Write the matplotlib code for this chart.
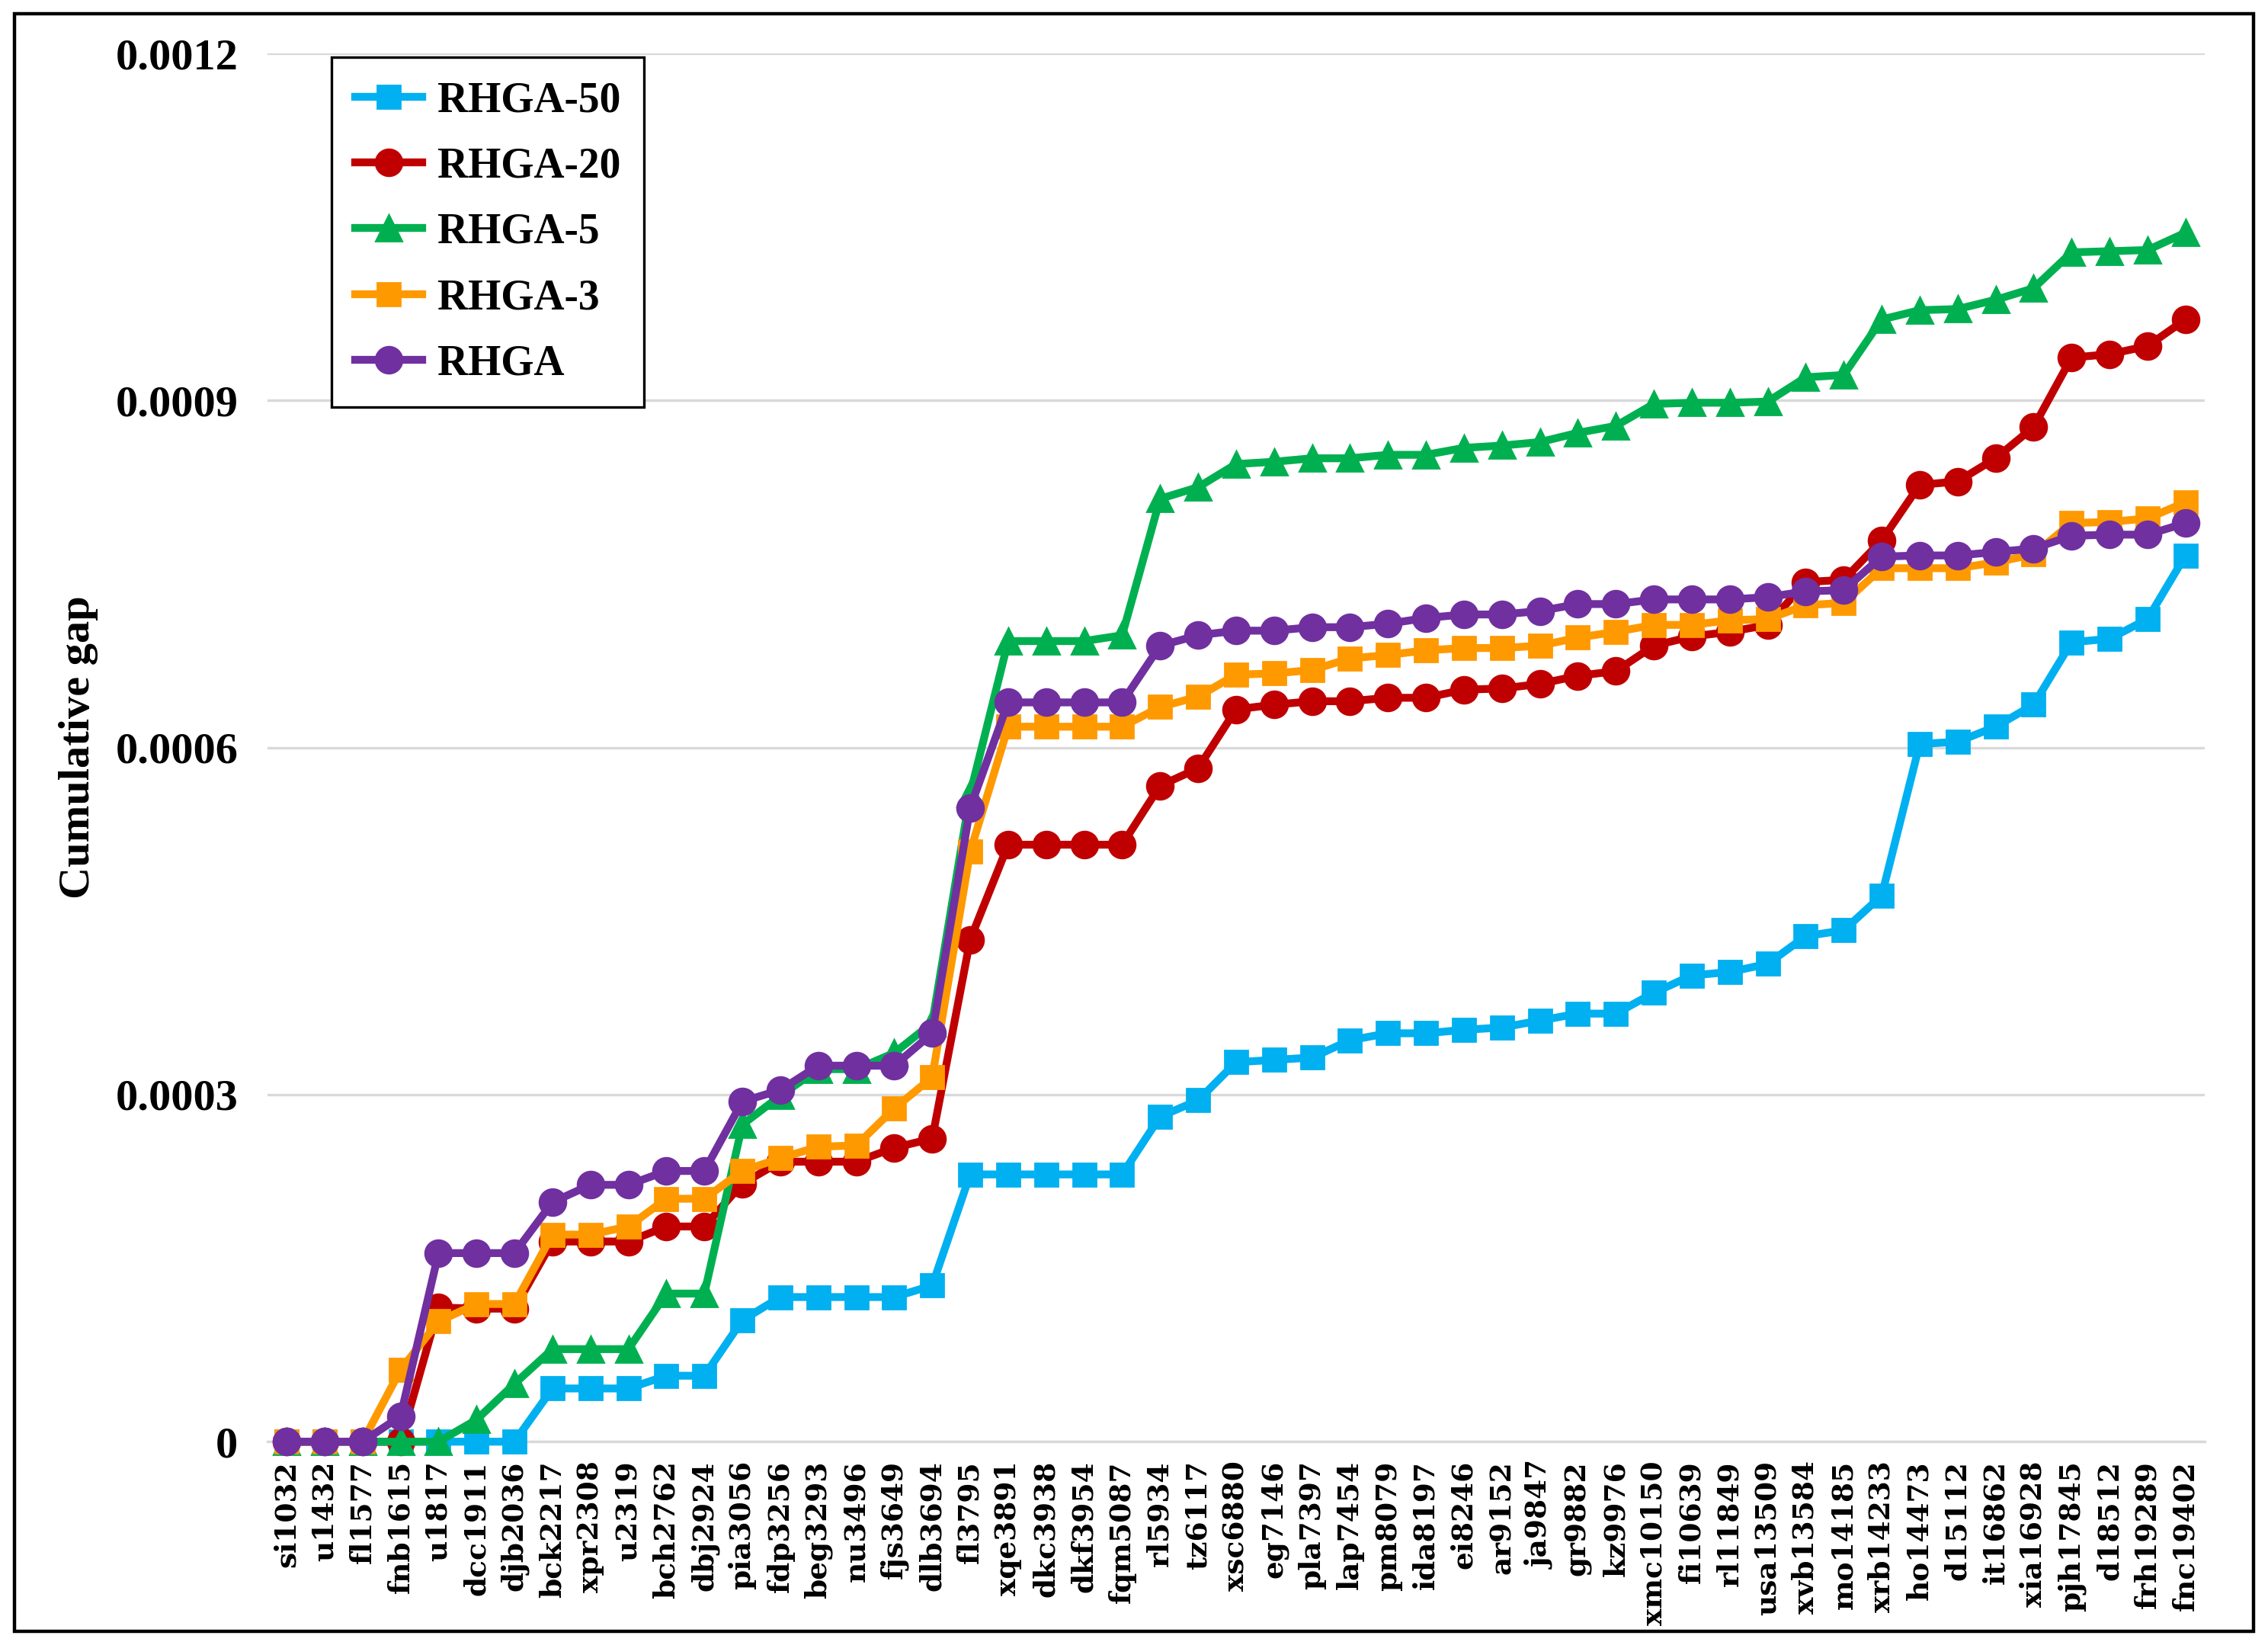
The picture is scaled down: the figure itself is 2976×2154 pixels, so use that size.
import numpy as np
import matplotlib
matplotlib.use("Agg")
import matplotlib.pyplot as plt
from matplotlib.patches import Rectangle

instances = ["si1032", "u1432", "fl1577", "fnb1615", "u1817", "dcc1911", "djb2036",
             "bck2217", "xpr2308", "u2319", "bch2762", "dbj2924", "pia3056", "fdp3256",
             "beg3293", "nu3496", "fjs3649", "dlb3694", "fl3795", "xqe3891", "dkc3938",
             "dkf3954", "fqm5087", "rl5934", "tz6117", "xsc6880", "eg7146", "pla7397",
             "lap7454", "pm8079", "ida8197", "ei8246", "ar9152", "ja9847", "gr9882",
             "kz9976", "xmc10150", "fi10639", "rl11849", "usa13509", "xvb13584",
             "mo14185", "xrb14233", "ho14473", "d15112", "it16862", "xia16928",
             "pjh17845", "d18512", "frh19289", "fnc19402"]

rhga50 = [0, 0, 0, 0, 0, 0, 0, 0.000046, 0.000046, 0.000046, 0.000057, 0.000057,
          0.000105, 0.000125, 0.000125, 0.000125, 0.000125, 0.000135, 0.000231,
          0.000231, 0.000231, 0.000231, 0.000231, 0.000281, 0.000295, 0.000328,
          0.000330, 0.000332, 0.000347, 0.000353, 0.000353, 0.000356, 0.000358,
          0.000364, 0.000370, 0.000370, 0.000388, 0.000403, 0.000406, 0.000413,
          0.000437, 0.000442, 0.000472, 0.000603, 0.000605, 0.000618, 0.000637,
          0.000691, 0.000694, 0.000711, 0.000766]

rhga20 = [0, 0, 0, 0, 0.000116, 0.000115, 0.000115, 0.000173, 0.000173, 0.000173,
          0.000186, 0.000186, 0.000223, 0.000242, 0.000242, 0.000242, 0.000254,
          0.000262, 0.000434, 0.000516, 0.000516, 0.000516, 0.000516, 0.000567,
          0.000582, 0.000633, 0.000637, 0.000640, 0.000640, 0.000643, 0.000643,
          0.000650, 0.000651, 0.000655, 0.000662, 0.000666, 0.000688, 0.000696,
          0.000700, 0.000706, 0.000743, 0.000745, 0.000779, 0.000827, 0.000830,
          0.000850, 0.000877, 0.000937, 0.000940, 0.000947, 0.000970]

rhga5 = [0, 0, 0, 0, 0, 0.000019, 0.000050, 0.000080, 0.000080, 0.000080, 0.000128,
         0.000128, 0.000274, 0.000299, 0.000322, 0.000322, 0.000336, 0.000362,
         0.000560, 0.000692, 0.000692, 0.000692, 0.000697, 0.000815, 0.000825,
         0.000845, 0.000847, 0.000850, 0.000850, 0.000853, 0.000853, 0.000859,
         0.000861, 0.000864, 0.000872, 0.000878, 0.000897, 0.000898, 0.000898,
         0.000899, 0.000920, 0.000922, 0.000970, 0.000978, 0.000979, 0.000987,
         0.000997, 0.001028, 0.001029, 0.001030, 0.001045]

rhga3 = [0, 0, 0, 0.000062, 0.000104, 0.000119, 0.000119, 0.000179, 0.000179,
         0.000186, 0.000210, 0.000210, 0.000234, 0.000245, 0.000255, 0.000256,
         0.000288, 0.000315, 0.000510, 0.000618, 0.000618, 0.000618, 0.000618,
         0.000635, 0.000644, 0.000663, 0.000664, 0.000667, 0.000677, 0.000680,
         0.000684, 0.000686, 0.000686, 0.000688, 0.000695, 0.000700, 0.000706,
         0.000706, 0.000710, 0.000711, 0.000723, 0.000725, 0.000755, 0.000755,
         0.000755, 0.000760, 0.000767, 0.000794, 0.000795, 0.000798, 0.000812]

rhga = [0, 0, 0, 0.000022, 0.000163, 0.000163, 0.000163, 0.000207, 0.000222,
        0.000222, 0.000234, 0.000234, 0.000294, 0.000304, 0.000325, 0.000325,
        0.000325, 0.000353, 0.000548, 0.000639, 0.000639, 0.000639, 0.000639,
        0.000688, 0.000697, 0.000701, 0.000701, 0.000704, 0.000704, 0.000707,
        0.000712, 0.000715, 0.000715, 0.000718, 0.000724, 0.000724, 0.000728,
        0.000728, 0.000728, 0.000730, 0.000735, 0.000736, 0.000765, 0.000766,
        0.000766, 0.000769, 0.000772, 0.000783, 0.000784, 0.000784, 0.000794]

series = [
    ("RHGA-50", rhga50, "#00B0F0", "s", 11),
    ("RHGA-20", rhga20, "#C00000", "o", 12.5),
    ("RHGA-5", rhga5, "#00B050", "^", 12.5),
    ("RHGA-3", rhga3, "#FF9900", "s", 11),
    ("RHGA", rhga, "#7030A0", "o", 12.5),
]

serif = "Liberation Serif"

fig = plt.figure(figsize=(14.88, 10.77), dpi=200)
ax = fig.add_axes([0.118, 0.122, 0.854, 0.8455])

x = np.arange(len(instances))
for name, vals, col, mk, ms in series:
    ax.plot(x, vals, color=col, marker=mk, markersize=ms, linewidth=3.7,
            label=name, zorder=3, clip_on=False)

ax.set_xlim(-0.5, len(instances) - 0.5)
ax.set_ylim(0, 0.0012)
ax.set_yticks([0, 0.0003, 0.0006, 0.0009, 0.0012])
ax.set_yticklabels(["0", "0.0003", "0.0006", "0.0009", "0.0012"],
                   fontfamily=serif, fontweight="bold", fontsize=21)
ax.set_xticks(x)
ax.set_xticklabels(instances, rotation=90, fontfamily="DejaVu Serif",
                   fontweight="bold", fontsize=13.5)
ax.tick_params(axis="y", length=0, pad=14)
ax.tick_params(axis="x", length=0, pad=9)

ax.grid(axis="y", color="#D9D9D9", linewidth=1.2, zorder=0)
for s in ["top", "right", "left"]:
    ax.spines[s].set_visible(False)
ax.spines["bottom"].set_color("#D9D9D9")
ax.spines["bottom"].set_linewidth(1.2)

ax.set_ylabel("Cumulative gap", fontfamily=serif, fontweight="bold",
              fontsize=21, labelpad=8)

leg = ax.legend(loc="upper left", bbox_to_anchor=(0.033, 0.997),
                prop={"family": serif, "weight": "bold", "size": 20},
                frameon=True, fancybox=False, edgecolor="black", framealpha=1,
                labelspacing=0.62, handlelength=1.6, handletextpad=0.35,
                borderpad=0.55, borderaxespad=0)
leg.get_frame().set_linewidth(1.2)

# border around whole figure
fig.patches.append(Rectangle((0.0065, 0.0065), 0.987, 0.985, transform=fig.transFigure,
                             fill=False, edgecolor="black", linewidth=1.6))

fig.savefig("out.png", dpi=200)
